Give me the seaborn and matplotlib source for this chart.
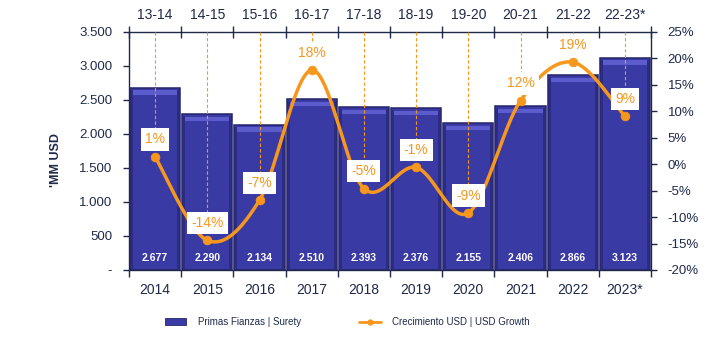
import numpy as np
import pandas as pd
import matplotlib
matplotlib.use("Agg")
import matplotlib.pyplot as plt
import seaborn as sns
from matplotlib.ticker import FuncFormatter, FixedLocator
from matplotlib.patches import Patch, Rectangle
from matplotlib.lines import Line2D

years = ["2014", "2015", "2016", "2017", "2018", "2019", "2020", "2021", "2022", "2023*"]
periods = ["13-14", "14-15", "15-16", "16-17", "17-18", "18-19", "19-20", "20-21", "21-22", "22-23*"]
primas = [2677, 2290, 2134, 2510, 2393, 2376, 2155, 2406, 2866, 3123]
primas_labels = ["2.677", "2.290", "2.134", "2.510", "2.393", "2.376", "2.155", "2.406", "2.866", "3.123"]
growth = [1.4, -14.4, -6.8, 17.8, -4.6, -0.6, -9.2, 12.0, 19.3, 9.1]
growth_labels = ["1%", "-14%", "-7%", "18%", "-5%", "-1%", "-9%", "12%", "19%", "9%"]

NAVY = "#3A3AA5"
EDGE = "#25256A"
LIGHT = "#5C5CCC"
ORANGE = "#F7971E"
TXT = "#1F2A4A"

sns.set_theme(style="white")
plt.rcParams['font.family'] = ['Liberation Sans', 'DejaVu Sans']

fig = plt.figure(figsize=(7.16, 3.38), dpi=100)
L, R, T, B = 129, 651, 32, 270
ax = fig.add_axes([L / 716, 1 - B / 338, (R - L) / 716, (B - T) / 338])

df = pd.DataFrame({"year": years, "primas": primas})
sns.barplot(data=df, x="year", y="primas", color=NAVY, saturation=1, width=0.965,
            edgecolor=EDGE, linewidth=1.1, ax=ax, zorder=2)
ax.set_xlim(-0.5, len(years) - 0.5)
ax.set_ylim(0, 3500)

# bevel highlight derived from each bar patch
px_y = 3500 / (B - T)
px_x = len(years) / (R - L)
for p in list(ax.patches):
    x0, w, h = p.get_x(), p.get_width(), p.get_height()
    ax.add_patch(Rectangle((x0 + 3 * px_x, h - 7 * px_y), w - 6 * px_x, 4.5 * px_y,
                           facecolor=LIGHT, edgecolor="none", zorder=2.5))
    ax.add_patch(Rectangle((x0 + 1 * px_x, 0), 2 * px_x, h - 2 * px_y,
                           facecolor="#2C2C85", edgecolor="none", zorder=2.5))
    ax.add_patch(Rectangle((x0 + w - 3 * px_x, 0), 2 * px_x, h - 2 * px_y,
                           facecolor="#2C2C85", edgecolor="none", zorder=2.5))

ax.set_xlabel("")
ax.set_ylabel("")
ax.yaxis.set_major_locator(FixedLocator(np.arange(0, 3501, 500)))
ax.yaxis.set_major_formatter(FuncFormatter(lambda v, p: "-" if v == 0 else f"{v:,.0f}".replace(",", ".")))
for s in ax.spines.values():
    s.set_color(TXT)
    s.set_linewidth(1)
    s.set_visible(True)
ax.tick_params(axis="y", direction="out", length=4, width=1, color=TXT, labelsize=9.5,
               labelcolor=TXT, pad=8, left=True)
ax.set_xticks(range(len(years)))
ax.set_xticklabels(years)
ax.tick_params(axis="x", which="major", length=0, labelsize=10, labelcolor=TXT, pad=9)
ax.set_xticks(np.arange(-0.5, len(years), 1), minor=True)
ax.tick_params(axis="x", which="minor", direction="out", length=5, width=1, color=TXT, bottom=True)

for i, lab in enumerate(primas_labels):
    ax.text(i, 175, lab, ha="center", va="center", color="white", fontsize=7.5,
            fontweight="bold", zorder=5)

# top axis
axt = ax.twiny()
axt.set_xlim(ax.get_xlim())
axt.set_xticks(range(len(periods)))
axt.set_xticklabels(periods)
axt.tick_params(axis="x", which="major", length=0, labelsize=10, labelcolor=TXT, pad=7)
axt.set_xticks(np.arange(-0.5, len(periods), 1), minor=True)
axt.tick_params(axis="x", which="minor", direction="inout", length=8, width=1, color=TXT, top=True)
for s in axt.spines.values():
    s.set_visible(False)

# secondary y axis
ax2 = ax.twinx()
ax2.set_ylim(-0.20, 0.25)
ax2.yaxis.set_major_locator(FixedLocator(np.arange(-0.20, 0.2501, 0.05)))
ax2.yaxis.set_major_formatter(FuncFormatter(lambda v, p: f"{round(v * 100) + 0:.0f}%"))
ax2.tick_params(axis="y", direction="out", length=4, width=1, color=TXT, labelsize=9.5,
                labelcolor=TXT, pad=8, right=True)
for s in ax2.spines.values():
    s.set_visible(False)

g = np.array(growth) / 100.0
xs = np.arange(len(g), dtype=float)

# Catmull-Rom smoothing (like a smoothed line)
pts = np.column_stack([xs, g])
ext = np.vstack([pts[0], pts, pts[-1]])
curve = []
for i in range(1, len(ext) - 2):
    p0, p1, p2, p3 = ext[i - 1], ext[i], ext[i + 1], ext[i + 2]
    t = np.linspace(0, 1, 40)[:, None]
    c = 0.5 * ((2 * p1) + (-p0 + p2) * t + (2 * p0 - 5 * p1 + 4 * p2 - p3) * t ** 2
               + (-p0 + 3 * p1 - 3 * p2 + p3) * t ** 3)
    curve.append(c)
curve = np.vstack(curve)
cdf = pd.DataFrame({"x": curve[:, 0], "y": curve[:, 1]})
sns.lineplot(data=cdf, x="x", y="y", sort=False, color=ORANGE, linewidth=2.5, ax=ax2, zorder=4)
pdf = pd.DataFrame({"x": xs, "y": g})
sns.scatterplot(data=pdf, x="x", y="y", color=ORANGE, s=40, edgecolor=ORANGE, ax=ax2, zorder=5)
ax2.set_xlabel("")
ax2.set_ylabel("")

for i, (v, lab) in enumerate(zip(g, growth_labels)):
    ax2.plot([i, i], [0.25, v + 0.032], color=ORANGE, linestyle=(0, (3, 2)), linewidth=0.8, zorder=3)
    ax2.annotate(lab, (i, v), xytext=(0, 12.5), textcoords="offset points", ha="center", va="center",
                 color=ORANGE, fontsize=10, zorder=6,
                 bbox=dict(boxstyle="square,pad=0.3", facecolor="white", edgecolor="none"))

fig.text(56 / 716, 1 - 160 / 338, "'MM USD", rotation=90, ha="center", va="center",
         fontsize=9, fontweight="bold", color=TXT)

handles = [Patch(facecolor=NAVY, edgecolor=EDGE, linewidth=0.6),
           Line2D([0], [0], color=ORANGE, linewidth=2, marker="o", markersize=3.5)]
fig.legend(handles, ["Primas Fianzas | Surety", "Crecimiento USD | USD Growth"],
           loc="center", bbox_to_anchor=(0.485, 1 - 322 / 338), ncol=2, frameon=False,
           fontsize=7, labelcolor=TXT, columnspacing=6, handlelength=2.2, handletextpad=1.2)

fig.savefig("out.png", dpi=100)
